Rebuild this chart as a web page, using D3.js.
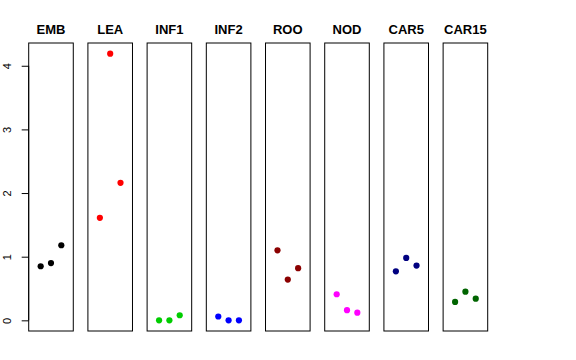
<!DOCTYPE html>
<html>
<head>
<meta charset="utf-8">
<script src="https://cdn.jsdelivr.net/npm/d3@7"></script>
<style>
html,body{margin:0;padding:0;background:#fff;}
svg{display:block;}
</style>
</head>
<body>
<svg id="chart" width="576" height="360"></svg>
<script>
// Data
const categories = ["EMB","LEA","INF1","INF2","ROO","NOD","CAR5","CAR15"];
const colors = ["#000000","#FF0000","#00CD00","#0000FF","#8B0000","#FF00FF","#000080","#006400"];
const replicateX = [1, 2, 3];
const valuesEMB = [0.85, 0.90, 1.18];
const valuesLEA = [1.61, 4.19, 2.16];
const valuesINF1 = [0.00, 0.00, 0.08];
const valuesINF2 = [0.06, 0.00, 0.00];
const valuesROO = [1.10, 0.64, 0.82];
const valuesNOD = [0.41, 0.16, 0.12];
const valuesCAR5 = [0.77, 0.98, 0.86];
const valuesCAR15 = [0.29, 0.45, 0.34];
const seriesValues = [valuesEMB, valuesLEA, valuesINF1, valuesINF2, valuesROO, valuesNOD, valuesCAR5, valuesCAR15];
const yTicks = [0, 1, 2, 3, 4];

const svg = d3.select("#chart");
const plotTop = 43, plotBottom = 331;
const FONT = "Liberation Sans, Arial, Helvetica, sans-serif";

const band = d3.scaleBand().domain(categories).range([28.7, 487.7]).paddingInner(0.247).paddingOuter(0);

// y: range of data with 4% expansion (R style)
const allVals = seriesValues.flat();
const yMin = d3.min(allVals), yMax = d3.max(allVals);
const yPad = (yMax - yMin) * 0.04;
const y = d3.scaleLinear().domain([yMin - yPad, yMax + yPad]).range([plotBottom, plotTop]);

categories.forEach((cat, i) => {
  const x0 = band(cat);
  const w = band.bandwidth();
  const x = d3.scaleLinear().domain([-0.16, 4.16]).range([x0, x0 + w]);
  const g = svg.append("g");
  g.append("rect")
    .attr("x", x0).attr("y", plotTop)
    .attr("width", w).attr("height", plotBottom - plotTop)
    .attr("fill", "none").attr("stroke", "#000").attr("stroke-width", 1);
  g.selectAll("circle").data(seriesValues[i]).enter().append("circle")
    .attr("cx", (d, j) => x(replicateX[j]))
    .attr("cy", d => y(d))
    .attr("r", 3.1)
    .attr("fill", colors[i]);
  g.append("text")
    .attr("x", x0 + w / 2).attr("y", 34)
    .attr("text-anchor", "middle")
    .attr("font-family", FONT)
    .attr("font-weight", "bold")
    .attr("font-size", "13px")
    .text(cat);
});

// y axis
const axisX = band(categories[0]);
const axis = d3.axisLeft(y).tickValues(yTicks).tickSize(7).tickPadding(0).tickFormat(d3.format("d"));
const ag = svg.append("g").attr("transform", `translate(${axisX},0)`).call(axis);
ag.attr("font-family", FONT).attr("font-size", 11);
ag.select(".domain").attr("d", `M0,${y(0)}V${y(4)}`).attr("stroke", "#000");
ag.selectAll(".tick line").attr("stroke", "#000");
ag.selectAll(".tick text")
  .attr("fill", "#000")
  .attr("text-anchor", "middle")
  .attr("x", null).attr("dy", null)
  .attr("transform", "translate(-18,0) rotate(-90)");
</script>
</body>
</html>
